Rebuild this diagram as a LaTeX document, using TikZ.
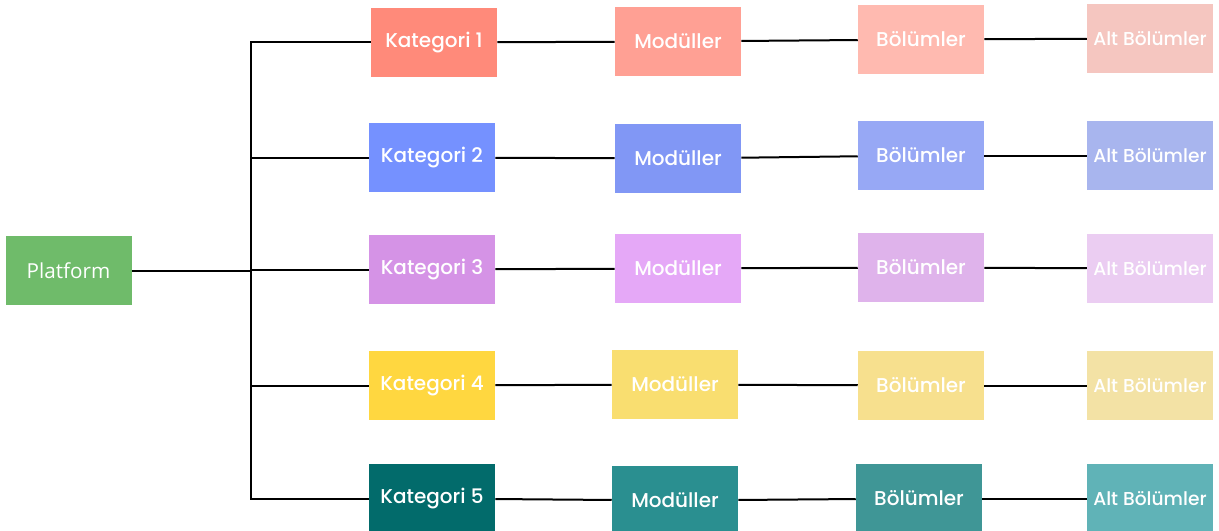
\documentclass[tikz,border=0pt]{standalone}
\usepackage{fontspec}
\setmainfont{Poppins}[BoldFont={Poppins Medium}]
\newfontfamily\platformfont{Open Sans}
\usetikzlibrary{positioning}

% row colours
\definecolor{plat}{HTML}{6FBB6A}
\definecolor{kaA}{HTML}{FF8A7A}\definecolor{moA}{HTML}{FFA094}\definecolor{boA}{HTML}{FFBAB0}\definecolor{alA}{HTML}{F5C6C0}
\definecolor{kaB}{HTML}{7591FF}\definecolor{moB}{HTML}{8197F5}\definecolor{boB}{HTML}{97A8F5}\definecolor{alB}{HTML}{A8B5EE}
\definecolor{kaC}{HTML}{D593E6}\definecolor{moC}{HTML}{E5A8F7}\definecolor{boC}{HTML}{DFB3EB}\definecolor{alC}{HTML}{EBCDF2}
\definecolor{kaD}{HTML}{FFD740}\definecolor{moD}{HTML}{F9DE70}\definecolor{boD}{HTML}{F7E08E}\definecolor{alD}{HTML}{F3E2A5}
\definecolor{kaE}{HTML}{026B6B}\definecolor{moE}{HTML}{2A8F90}\definecolor{boE}{HTML}{3F9696}\definecolor{alE}{HTML}{60B3B7}

\tikzset{
  box/.style={minimum width=94.5pt, minimum height=51.75pt, inner sep=0pt,
    text=white, font=\fontsize{15}{17}\selectfont\bfseries},
  subbox/.style={box, font=\fontsize{14}{16}\selectfont\bfseries},
  link/.style={line width=1.5pt, black}
}

\begin{document}
\begin{tikzpicture}[x=0.75pt, y=-0.75pt]
		\useasboundingbox (0,0) rectangle (1219,531);

		%the root
		\node[box, fill=plat, font=\platformfont\fontsize{15.5}{18}\selectfont] (platform) at (68.5,270.5) {Platform};

		%the categories
		\node[box, fill=kaA] (kat1) at (434,42.5) {Kategori 1};
		\node[box, fill=kaB] (kat2) at (432,157.5) {Kategori 2};
		\node[box, fill=kaC] (kat3) at (432,269.5) {Kategori 3};
		\node[box, fill=kaD] (kat4) at (432,385.5) {Kategori 4};
		\node[box, fill=kaE] (kat5) at (432,498.5) {Kategori 5};

		%the modules
		\node[box, fill=moA] (mod1) at (678,41.5) {Modüller};
		\node[box, fill=moB] (mod2) at (678,158.5) {Modüller};
		\node[box, fill=moC] (mod3) at (678,268.5) {Modüller};
		\node[box, fill=moD] (mod4) at (675,384.5) {Modüller};
		\node[box, fill=moE] (mod5) at (675,500.5) {Modüller};

		%the sections
		\node[box, fill=boA] (bol1) at (921,39.5) {Bölümler};
		\node[box, fill=boB] (bol2) at (921,155.5) {Bölümler};
		\node[box, fill=boC] (bol3) at (921,267.5) {Bölümler};
		\node[box, fill=boD] (bol4) at (921,385.5) {Bölümler};
		\node[box, fill=boE] (bol5) at (919,498.5) {Bölümler};

		%the sub sections
		\node[subbox, fill=alA] (alt1) at (1150,38.5) {Alt Bölümler};
		\node[subbox, fill=alB] (alt2) at (1150,155.5) {Alt Bölümler};
		\node[subbox, fill=alC] (alt3) at (1150,268.5) {Alt Bölümler};
		\node[subbox, fill=alD] (alt4) at (1150,385.5) {Alt Bölümler};
		\node[subbox, fill=alE] (alt5) at (1150,498.5) {Alt Bölümler};

		% the tree
		\coordinate (trunk) at (251,270.5);
		\draw[link] (platform) -- (trunk);
		\draw[link] (kat1.west) -- (kat1.west -| trunk) -- (kat5.west -| trunk) -- (kat5.west);
		\draw[link] (kat2.west -| trunk) -- (kat2.west);
		\draw[link] (kat3.west -| trunk) -- (kat3.west);
		\draw[link] (kat4.west -| trunk) -- (kat4.west);

		% the rows
		\foreach \i in {1,...,5} {
			\draw[link] (kat\i) -- (mod\i);
			\draw[link] (mod\i) -- (bol\i);
			\draw[link] (bol\i) -- (alt\i);
		}

	\end{tikzpicture}
\end{document}
